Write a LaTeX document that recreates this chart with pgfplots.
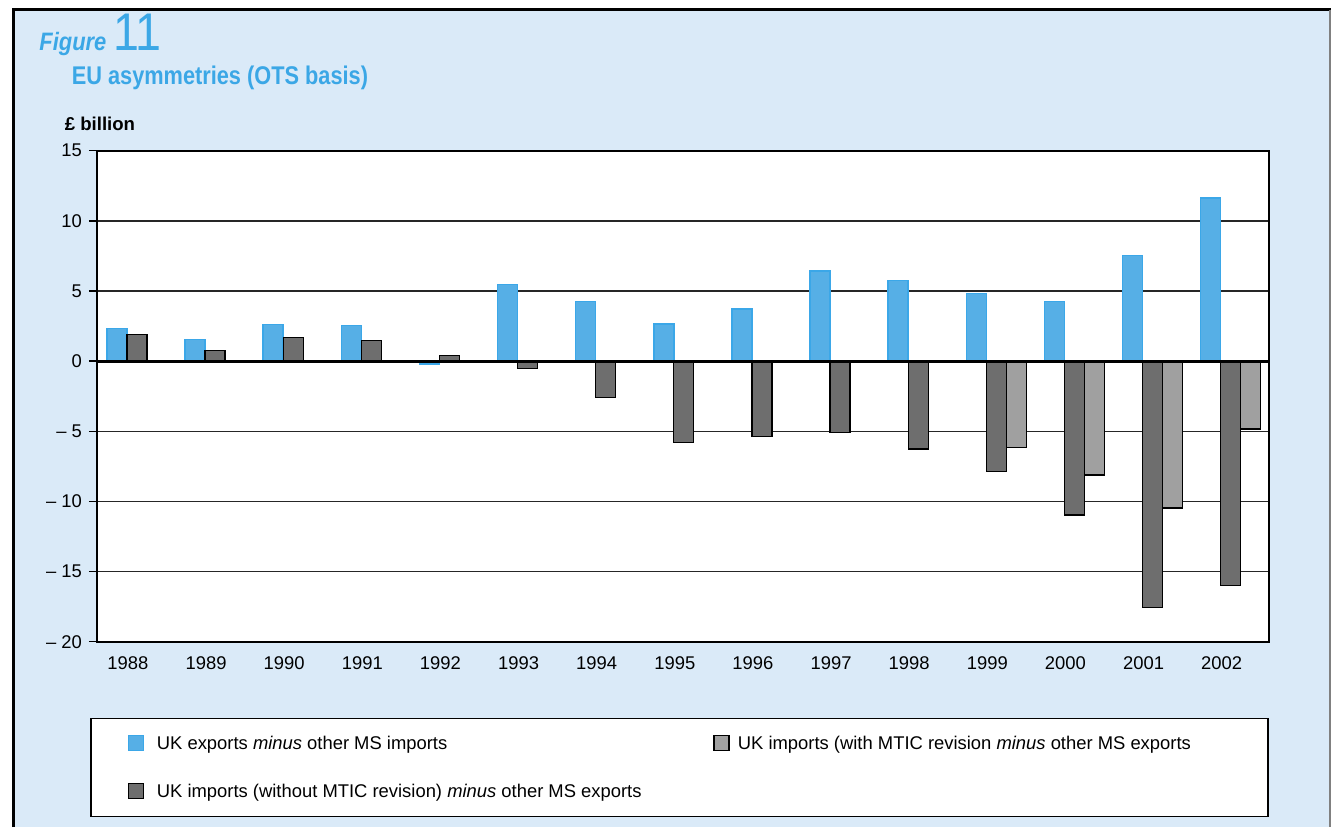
\documentclass[border=0pt]{standalone}
\usepackage{fontspec}
\setmainfont{Liberation Sans}
\usepackage{graphicx}
\usepackage{pgfplots}
\pgfplotsset{compat=1.18}

\definecolor{bgblue}{RGB}{218,234,248}
\definecolor{titleblue}{RGB}{59,167,230}
\definecolor{barblue}{RGB}{86,175,230}
\definecolor{barblueedge}{RGB}{59,167,232}
\definecolor{darkgrey}{RGB}{110,110,110}
\definecolor{lightgrey}{RGB}{160,160,160}

\begin{document}
\begin{tikzpicture}[x=1pt,y=1pt]
\useasboundingbox (0,0) rectangle (665.5,-413.5);
\fill[bgblue] (6.85,-4.85) rectangle (665.5,-413.5);
\draw[line width=1.35pt] (6.85,-413.5) -- (6.85,-4.85) -- (665.5,-4.85);
\draw[gray, line width=0.6pt] (665,-4.85) -- (665,-413.5);

\node[anchor=base west, inner sep=0, text=titleblue,
      font=\fontsize{12.6}{14}\selectfont\bfseries\itshape] at (19.5,-25) {\scalebox{0.87}[1]{Figure}};
\node[anchor=base west, inner sep=0, text=titleblue,
      font=\fontsize{26.5}{28}\selectfont] at (56.5,-25) {\scalebox{0.88}[1]{11}};
\node[anchor=base west, inner sep=0, text=titleblue,
      font=\fontsize{12.8}{14}\selectfont\bfseries] at (35.7,-42.15) {\scalebox{0.85}[1]{EU asymmetries (OTS basis)}};
\node[anchor=base west, inner sep=0,
      font=\fontsize{9.3}{11}\selectfont\bfseries] at (32.2,-65) {£ billion};

\begin{axis}[
    at={(48.35pt,-320.85pt)}, anchor=south west,
    scale only axis, width=586.3pt, height=245.5pt,
    xmin=-0.40, xmax=14.61, ymin=-20, ymax=15,
    axis background/.style={fill=white},
    axis line style={black, line width=0.9pt},
    xtick={0,...,14},
    xticklabels={1988,1989,1990,1991,1992,1993,1994,1995,1996,1997,1998,1999,2000,2001,2002},
    xtick style={draw=none},
    ytick={-20,-15,-10,-5,0,5,10,15},
    yticklabels={– 20,– 15,– 10,– 5,0,5,10,15},
    ytick pos=left, tick align=outside, major tick length=3.85pt,
    ytick style={black, line width=0.7pt},
    ymajorgrids, grid style={black!85, line width=0.7pt},
    tick label style={font=\fontsize{9.2}{11}\selectfont},
    legend columns=2,
    legend image code/.code={\draw[#1, line width=0.6pt] (0pt,-0.45pt) rectangle (7.5pt,7.05pt);},
    legend style={at={(axis description cs:0,0)}, anchor=north west,
        xshift=-3.15pt, yshift=-37.9pt,
        draw=black, line width=0.7pt, fill=white,
        inner xsep=18.3pt, inner ysep=8pt, row sep=14.85pt, column sep=0pt,
        font=\fontsize{9.2}{11}\selectfont,
        cells={anchor=base west},
        nodes={inner sep=0pt},
        /tikz/column 1/.append style={column sep=6.5pt},
        /tikz/column 3/.append style={column sep=4.2pt}},
]
\addplot[ybar, bar width=10pt, bar shift=-5.5pt, fill=barblue, draw=barblueedge, line width=0.7pt]
  coordinates {(0,2.34) (1,1.53) (2,2.62) (3,2.52) (4,-0.19) (5,5.45) (6,4.24) (7,2.64)
               (8,3.71) (9,6.43) (10,5.74) (11,4.81) (12,4.26) (13,7.53) (14,11.64)};
\addlegendentry{\makebox[278.2pt][l]{\strut UK exports \textit{minus} other MS imports}}
\addplot[ybar, bar width=10pt, bar shift=14.5pt, fill=lightgrey, draw=black, line width=0.6pt]
  coordinates {(11,-6.14) (12,-8.11) (13,-10.47) (14,-4.83)};
\addlegendentry{\makebox[246.7pt][l]{\strut UK imports (with MTIC revision \textit{minus} other MS exports}}
\addplot[ybar, bar width=10pt, bar shift=4.5pt, fill=darkgrey, draw=black, line width=0.6pt]
  coordinates {(0,1.88) (1,0.76) (2,1.67) (3,1.46) (4,0.38) (5,-0.54) (6,-2.57) (7,-5.79)
               (8,-5.36) (9,-5.07) (10,-6.26) (11,-7.88) (12,-10.97) (13,-17.57) (14,-15.97)};
\addlegendentry{\strut UK imports (without MTIC revision) \textit{minus} other MS exports}
\addplot[black, line width=1.5pt, forget plot] coordinates {(-0.40,0) (14.61,0)};
\end{axis}
\end{tikzpicture}
\end{document}
